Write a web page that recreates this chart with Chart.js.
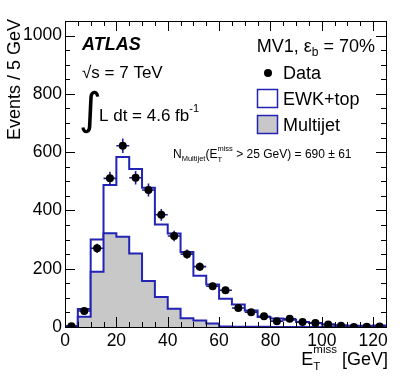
<!DOCTYPE html>
<html>
<head>
<meta charset="utf-8">
<script src="https://cdn.jsdelivr.net/npm/chart.js@4.4.1/dist/chart.umd.min.js"></script>
<style>
  html, body { margin: 0; padding: 0; background: #fff; }
  #wrap { width: 407px; height: 391px; }
</style>
</head>
<body>
<div id="wrap"><canvas id="myChart" width="407" height="391"></canvas></div>
<script>
// bins of 5 GeV, centres
binWidth = 5
binCenters = [2.5, 7.5, 12.5, 17.5, 22.5, 27.5, 32.5, 37.5, 42.5, 47.5, 52.5, 57.5, 62.5,
              67.5, 72.5, 77.5, 82.5, 87.5, 92.5, 97.5, 102.5, 107.5, 112.5, 117.5, 122.5]

dataCounts = [3, 55, 270, 510, 622, 512, 470, 385, 312, 250, 207, 140, 126,
              65, 51, 37, 20, 28, 17, 14, 9, 4, 0, 1, 2]
dataErrors = [2, 7, 16, 23, 25, 23, 22, 20, 18, 16, 14, 12, 11,
              8, 7, 6, 4, 5, 4, 4, 3, 2, 1, 1, 1]
// EWK+top stacked on multijet (total prediction)
totalPred = [3, 62, 300, 487, 583, 542, 478, 352, 321, 257, 176, 146, 97,
             77, 57, 34, 29, 25, 17, 14, 9, 6, 4, 4, 5]
multijet = [1, 35, 190, 322, 310, 252, 158, 103, 63, 30, 22, 12, 2,
            1, 1, 1, 0, 0, 0, 0, 0, 0, 0, 0, 0]

xTicks = [0, 20, 40, 60, 80, 100, 120]
yTicks = [0, 200, 400, 600, 800, 1000]

const FONT = '"Liberation Sans", Arial, Helvetica, sans-serif'
const BLUE = '#2323b4'

function histPoints(vals) {
  var pts = vals.map((v, i) => ({x: binCenters[i] - binWidth / 2, y: v}))
  pts.push({x: binCenters[vals.length - 1] + binWidth / 2, y: vals[vals.length - 1]})
  return pts
}

// text with sub/superscripts, parts: {text,size,dy,style} or {sub,sup,size,subDy,supDy}
function richText(ctx, x, y, parts, align) {
  function widthOf(p) {
    if (p.sub !== undefined || p.sup !== undefined) {
      ctx.font = p.size + 'px ' + FONT
      return Math.max(ctx.measureText(p.sub || '').width, ctx.measureText(p.sup || '').width)
    }
    ctx.font = (p.style || '') + ' ' + p.size + 'px ' + FONT
    return ctx.measureText(p.text).width
  }
  var total = 0
  parts.forEach(p => { total += widthOf(p) })
  var cx = align === 'right' ? x - total : x
  ctx.textAlign = 'left'
  ctx.textBaseline = 'alphabetic'
  parts.forEach(p => {
    var w = widthOf(p)
    if (p.sub !== undefined || p.sup !== undefined) {
      if (p.sub) ctx.fillText(p.sub, cx, y + p.subDy)
      if (p.sup) ctx.fillText(p.sup, cx, y + p.supDy)
    } else {
      ctx.fillText(p.text, cx, y + (p.dy || 0))
    }
    cx += w
  })
}

const atlasDecor = {
  id: 'atlasDecor',
  beforeDatasetDraw(chart, args) {
    if (args.index !== 0) return
    // error bars for data
    const ctx = chart.ctx, xs = chart.scales.x, ys = chart.scales.y
    ctx.save()
    ctx.strokeStyle = '#1e1e8c'
    ctx.lineWidth = 1.6
    dataCounts.forEach((v, i) => {
      var px = xs.getPixelForValue(binCenters[i])
      var py = ys.getPixelForValue(v)
      ctx.beginPath()
      ctx.moveTo(xs.getPixelForValue(binCenters[i] - binWidth / 2), py)
      ctx.lineTo(xs.getPixelForValue(binCenters[i] + binWidth / 2), py)
      ctx.moveTo(px, ys.getPixelForValue(Math.max(0, v - dataErrors[i])))
      ctx.lineTo(px, ys.getPixelForValue(v + dataErrors[i]))
      ctx.stroke()
    })
    ctx.restore()
  },
  afterDraw(chart) {
    const ctx = chart.ctx, a = chart.chartArea
    const xs = chart.scales.x, ys = chart.scales.y
    ctx.save()
    // frame
    ctx.strokeStyle = '#000'
    ctx.lineWidth = 1
    ctx.strokeRect(Math.round(a.left) + 0.5, Math.round(a.top) + 0.5,
                   Math.round(a.right - a.left), Math.round(a.bottom - a.top))
    // ticks, inside the frame on all sides
    ctx.beginPath()
    for (var v = 0; v <= 125; v += 5) {
      var px = Math.round(xs.getPixelForValue(v)) + 0.5
      var len = (v % 20 === 0) ? 10 : 5
      ctx.moveTo(px, a.bottom); ctx.lineTo(px, a.bottom - len)
      ctx.moveTo(px, a.top); ctx.lineTo(px, a.top + len)
    }
    for (var w = 0; w <= 1050; w += 50) {
      var py = Math.round(ys.getPixelForValue(w)) + 0.5
      var l2 = (w % 200 === 0) ? 10 : 5
      ctx.moveTo(a.left, py); ctx.lineTo(a.left + l2, py)
      ctx.moveTo(a.right, py); ctx.lineTo(a.right - l2, py)
    }
    ctx.stroke()

    ctx.fillStyle = '#000'
    // y title, right-aligned to the top of the frame
    ctx.save()
    ctx.translate(20, 19)
    ctx.rotate(-Math.PI / 2)
    ctx.font = '18px ' + FONT
    ctx.textAlign = 'right'
    ctx.textBaseline = 'alphabetic'
    ctx.fillText('Events / 5 GeV', 0, 0)
    ctx.restore()
    // x title
    richText(ctx, 388, 365, [
      {text: 'E', size: 18},
      {sub: 'T', sup: 'miss', size: 11.5, subDy: 5, supDy: -12},
      {text: ' [GeV]', size: 18}
    ], 'right')
    // ATLAS label
    richText(ctx, 82, 50, [{text: 'ATLAS', size: 18, style: 'italic bold'}])
    richText(ctx, 82, 78, [{text: '√s = 7 TeV', size: 17}])
    ctx.font = '44px "DejaVu Sans", sans-serif'
    ctx.fillText('∫', 79, 124)
    richText(ctx, 99, 121, [
      {text: 'L dt = 4.6 fb', size: 17},
      {text: '-1', size: 11, dy: -9}
    ])
    // legend block
    richText(ctx, 375, 52, [
      {text: 'MV1, ε', size: 18},
      {text: 'b', size: 12, dy: 4},
      {text: ' = 70%', size: 18}
    ], 'right')
    ctx.beginPath()
    ctx.arc(268, 73, 4, 0, Math.PI * 2)
    ctx.fill()
    richText(ctx, 283, 79, [{text: 'Data', size: 18}])
    ctx.strokeStyle = BLUE
    ctx.lineWidth = 1.5
    ctx.fillStyle = '#fff'
    ctx.fillRect(257.5, 89.5, 20, 18)
    ctx.strokeRect(257.5, 89.5, 20, 18)
    ctx.fillStyle = '#c8c8c8'
    ctx.fillRect(257.5, 115.5, 20, 18)
    ctx.strokeRect(257.5, 115.5, 20, 18)
    ctx.fillStyle = '#000'
    richText(ctx, 283, 105, [{text: 'EWK+top', size: 18}])
    richText(ctx, 283, 131, [{text: 'Multijet', size: 18}])
    // multijet normalisation
    richText(ctx, 173, 158, [
      {text: 'N', size: 12},
      {text: 'Multijet', size: 7.5, dy: 3},
      {text: '(E', size: 12},
      {sub: 'T', sup: 'miss', size: 7.5, subDy: 4, supDy: -7},
      {text: ' > 25 GeV) = 690 ± 61', size: 12}
    ])
    ctx.restore()
  }
}

var ctx = document.getElementById('myChart')
var chart = new Chart(ctx, {
  type: 'line',
  data: {
    datasets: [
      {
        label: 'Data',
        data: binCenters.map((c, i) => ({x: c, y: dataCounts[i]})),
        showLine: false,
        pointRadius: 4,
        pointBackgroundColor: '#000',
        pointBorderColor: '#000',
        pointBorderWidth: 0,
        order: 0
      },
      {
        label: 'Multijet',
        data: histPoints(multijet),
        stepped: 'before',
        borderColor: BLUE,
        borderWidth: 2,
        backgroundColor: '#c8c8c8',
        fill: 'origin',
        pointRadius: 0,
        order: 1
      },
      {
        label: 'EWK+top',
        data: histPoints(totalPred),
        stepped: 'before',
        borderColor: BLUE,
        borderWidth: 2,
        fill: false,
        pointRadius: 0,
        order: 2
      }
    ]
  },
  options: {
    responsive: false,
    animation: false,
    layout: { padding: { left: 0, top: 21, right: 21, bottom: 0 } },
    scales: {
      x: {
        type: 'linear',
        min: 0,
        max: 125,
        afterBuildTicks: (s) => { s.ticks = xTicks.map(v => ({value: v})) },
        afterFit: (s) => { s.height = 64 },
        grid: { display: false, drawTicks: false },
        border: { display: false },
        ticks: { color: '#000', font: { size: 17.5, family: FONT }, padding: 4, maxRotation: 0, autoSkip: false,
                 callback: (v) => String(v) }
      },
      y: {
        min: 0,
        max: 1050,
        afterBuildTicks: (s) => { s.ticks = yTicks.map(v => ({value: v})) },
        afterFit: (s) => { s.width = 65 },
        grid: { display: false, drawTicks: false },
        border: { display: false },
        ticks: { color: '#000', font: { size: 17.5, family: FONT }, padding: 3, autoSkip: false,
                 callback: (v) => String(v) }
      }
    },
    plugins: {
      legend: { display: false },
      tooltip: { enabled: false }
    }
  },
  plugins: [atlasDecor]
})
</script>
</body>
</html>
